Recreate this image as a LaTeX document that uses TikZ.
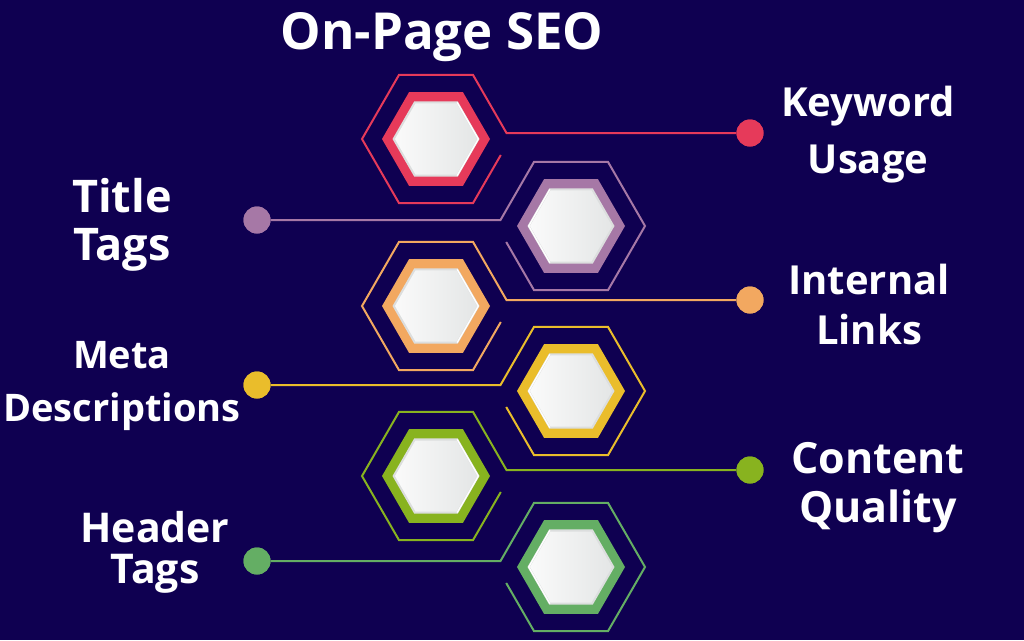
\documentclass[tikz,border=0pt]{standalone}
\usepackage{fontspec}
\setmainfont{Open Sans}
\definecolor{bg}{HTML}{0F0051}
\definecolor{cred}{HTML}{E63A5A}
\definecolor{cpurple}{HTML}{A678A6}
\definecolor{corange}{HTML}{F2A860}
\definecolor{cyellow}{HTML}{EABD2B}
\definecolor{colive}{HTML}{88B31F}
\definecolor{cgreen}{HTML}{64AE64}
\definecolor{rim}{HTML}{DCDEDE}
\definecolor{hexL}{HTML}{FAFAFA}
\definecolor{hexR}{HTML}{E4E6E6}
\tikzset{
  hexline/.style={draw=#1, line width=2pt, line join=miter},
  dotnode/.style={circle, fill=#1, minimum size=27pt, inner sep=0pt},
  lbl/.style={text=white, anchor=base, inner sep=0pt, font=\fontsize{#1}{#1}\selectfont\bfseries},
}
\newcommand\hexitem[5]{%
  \begin{scope}[shift={(#1,#2)}, xscale=#4]
    \draw[hexline=#3] (64.8,16) -- (37,64.1) -- (-37,64.1) -- (-74,0) -- (-37,-64.1) -- (37,-64.1) -- (70.5,-6) coordinate (#5c) -- (#5);
    \fill[#3] (0:54) -- (60:54) -- (120:54) -- (180:54) -- (240:54) -- (300:54) -- cycle;
    \fill[rim] (0:43.5) -- (60:43.5) -- (120:43.5) -- (180:43.5) -- (240:43.5) -- (300:43.5) -- cycle;
    \shade[left color=hexL, right color=hexR] (0:41) -- (60:41) -- (120:41) -- (180:41) -- (240:41) -- (300:41) -- cycle;
    \draw[white, line width=1.3pt] (60:42.3) -- (0:42.3) -- (300:42.3);
  \end{scope}}
\begin{document}
\begin{tikzpicture}[x=1pt, y=-1pt]
  \fill[bg] (0,0) rectangle (1024,640);
  \useasboundingbox (0,0) rectangle (1024,640);
  % dots
  \node[dotnode=cred]    (d1) at (750,133) {};
  \node[dotnode=cpurple] (d2) at (257,220) {};
  \node[dotnode=corange] (d3) at (750,300) {};
  \node[dotnode=cyellow] (d4) at (257,385) {};
  \node[dotnode=colive]  (d5) at (750,470) {};
  \node[dotnode=cgreen]  (d6) at (257,561) {};
  % hexagons with connectors
  \hexitem{436}{139}{cred}{1}{d1}
  \hexitem{571}{226}{cpurple}{-1}{d2}
  \hexitem{436}{306}{corange}{1}{d3}
  \hexitem{571}{391}{cyellow}{-1}{d4}
  \hexitem{436}{476}{colive}{1}{d5}
  \hexitem{571}{567}{cgreen}{-1}{d6}
  % redraw dots on top
  \node[dotnode=cred]    at (d1) {};
  \node[dotnode=cpurple] at (d2) {};
  \node[dotnode=corange] at (d3) {};
  \node[dotnode=cyellow] at (d4) {};
  \node[dotnode=colive]  at (d5) {};
  \node[dotnode=cgreen]  at (d6) {};
  % labels
  \node[lbl=51] (title) at (442,49) {On-Page SEO};
  \node[lbl=40] (kw1) at (868,116) {Keyword};
  \node[lbl=40] (kw2) at (868,173) {Usage};
  \node[lbl=45] (tt1) at (122,212) {Title};
  \node[lbl=45] (tt2) at (122,260) {Tags};
  \node[lbl=40] (il1) at (869,294) {Internal};
  \node[lbl=40] (il2) at (869,344) {Links};
  \node[lbl=38] (md1) at (122,368) {Meta};
  \node[lbl=38] (md2) at (122,421) {Descriptions};
  \node[lbl=43] (cq1) at (878,473) {Content};
  \node[lbl=43] (cq2) at (878,522) {Quality};
  \node[lbl=41] (ht1) at (155,542) {Header};
  \node[lbl=41] (ht2) at (155,583) {Tags};
\end{tikzpicture}
\end{document}
